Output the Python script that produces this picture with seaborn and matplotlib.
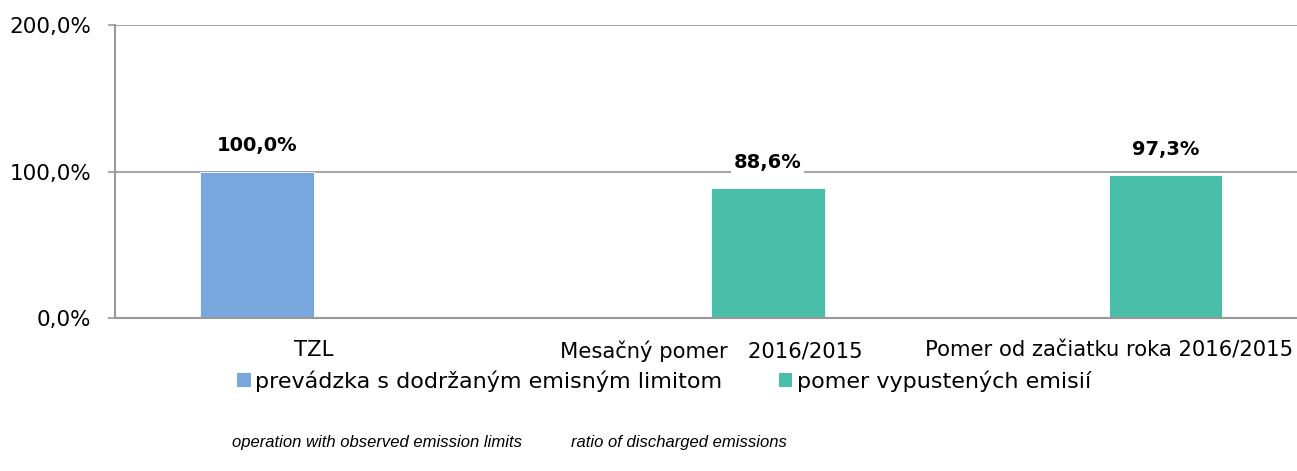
import matplotlib
matplotlib.use("Agg")
import matplotlib.pyplot as plt
import seaborn as sns
import pandas as pd
from matplotlib.patches import Patch
from matplotlib.ticker import FuncFormatter, FixedLocator

categories = ["TZL", "Mesačný pomer   2016/2015", "Pomer od začiatku roka 2016/2015"]
series_names = ["prevádzka s dodržaným emisným limitom", "pomer vypustených emisií"]
series_en = ["operation with observed emission limits", "ratio of discharged emissions"]
bar_category = ["TZL", "Mesačný pomer   2016/2015", "Pomer od začiatku roka 2016/2015"]
bar_series = ["prevádzka s dodržaným emisným limitom", "pomer vypustených emisií", "pomer vypustených emisií"]
bar_values = [100.0, 88.6, 97.3]
y_ticks = [0, 100, 200]
colors = ["#78A7DD", "#49BFA9"]

df = pd.DataFrame({"cat": bar_category, "series": bar_series, "val": bar_values})

sns.set_theme(style="white")
plt.rcParams["font.family"] = ["DejaVu Sans"]
plt.rcParams["text.color"] = "black"

fig = plt.figure(figsize=(12.97, 4.71), dpi=100)
ax = fig.add_axes([115/1297, (471-318)/471, (1307.5-115)/1297, (318-25)/471])

sns.barplot(data=df, x="cat", y="val", hue="series", order=categories,
            hue_order=series_names, palette=colors, width=0.57, dodge=True,
            ax=ax, legend=False, saturation=1, edgecolor="white", linewidth=0.6)

ax.set_xlim(-0.5, 2.5)
ax.set_ylim(0, 200)
ax.yaxis.set_major_locator(FixedLocator(y_ticks))
ax.yaxis.set_major_formatter(FuncFormatter(lambda v, p: f"{v:.1f}%".replace(".", ",")))
ax.grid(axis="y", color="#A6A6A6", linewidth=1.5)
ax.set_axisbelow(True)
ax.set_xlabel("")
ax.set_ylabel("")

for s in ["top", "right"]:
    ax.spines[s].set_visible(False)
for s in ["left", "bottom"]:
    ax.spines[s].set_color("#999999")
    ax.spines[s].set_linewidth(1.5)

ax.tick_params(axis="x", which="major", length=0, labelsize=15.2, pad=16, labelcolor="black")
ax.set_xticks([-0.5, 0.5, 1.5, 2.5], minor=True)
ax.tick_params(axis="x", which="minor", length=5, width=1.2, color="#999999", direction="out")
ax.tick_params(axis="y", length=5, width=1.2, color="#999999", labelsize=15.5, pad=12, labelcolor="black", left=True)

for cont in ax.containers:
    labels = [f"{b.get_height():.1f}%".replace(".", ",") for b in cont]
    ax.bar_label(cont, labels=labels, padding=12, fontsize=14, fontweight="bold",
                 color="black", bbox=dict(facecolor="white", edgecolor="none", pad=2))

handles = [Patch(facecolor=c, edgecolor="none") for c in colors]
fig.legend(handles, series_names, loc="center", bbox_to_anchor=(664/1297, 1-381/471),
           ncol=2, frameon=False, fontsize=16, handlelength=0.6, handleheight=0.6,
           handletextpad=0.2, columnspacing=2.55, labelcolor="black")

fig.text(377/1297, 1-442/471, series_en[0], ha="center", va="center", fontsize=12,
         style="italic", color="black", family=["Liberation Sans", "DejaVu Sans"])
fig.text(679/1297, 1-442/471, series_en[1], ha="center", va="center", fontsize=12,
         style="italic", color="black", family=["Liberation Sans", "DejaVu Sans"])

fig.savefig("out.png", dpi=100)
